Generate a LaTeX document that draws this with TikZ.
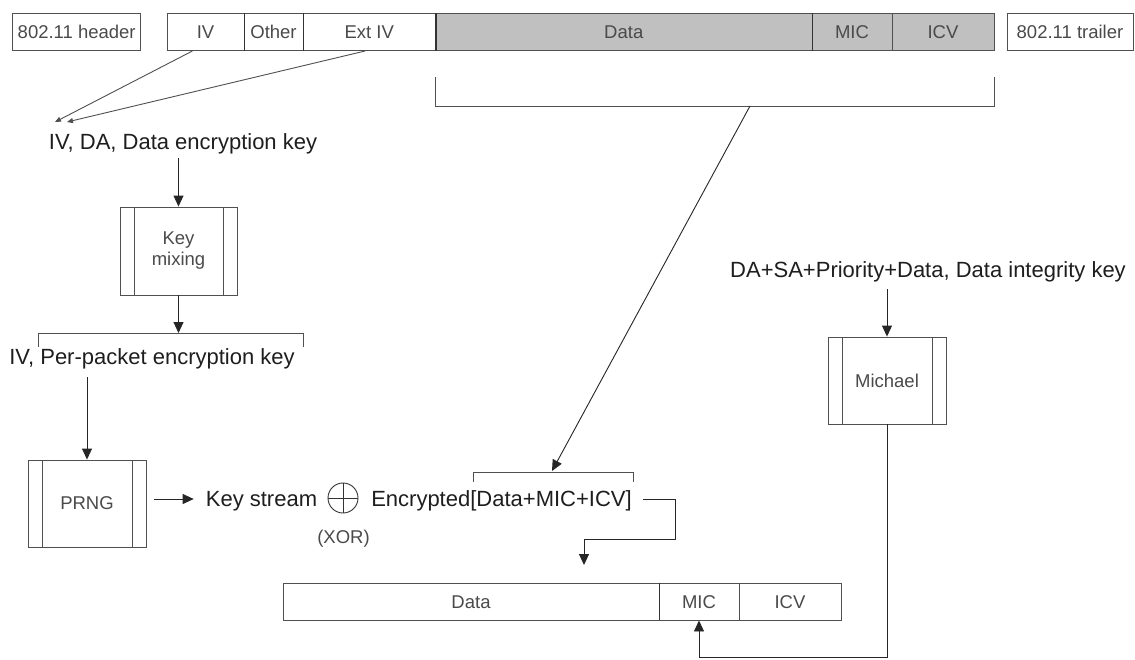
\documentclass[tikz,border=0pt]{standalone}
\usepackage{fontspec}
\setmainfont{Liberation Sans}
\usetikzlibrary{arrows.meta,calc}
\definecolor{ln}{HTML}{505050}
\definecolor{lbl}{HTML}{4A4A4A}
\definecolor{txt}{HTML}{1E1E1E}
\definecolor{gfill}{HTML}{C0C0C0}
\tikzset{
 cell/.style={draw=ln, line width=0.9pt, inner sep=0pt, minimum height=37pt, text height=13.3pt, text depth=0pt, font=\fontsize{18.5}{22}\selectfont, text=lbl},
 divider/.style={draw=black!80, line width=1.8pt},
 proc/.style={draw=ln, line width=0.9pt, minimum width=118pt, minimum height=87pt, inner sep=0pt, font=\fontsize{18.5}{21}\selectfont, text=lbl, align=center,
   path picture={\draw[ln,line width=0.9pt] ([xshift=14pt]path picture bounding box.north west) -- ([xshift=14pt]path picture bounding box.south west) ([xshift=-14pt]path picture bounding box.north east) -- ([xshift=-14pt]path picture bounding box.south east);}},
 lab/.style={inner sep=0pt, text height=15.8pt, text depth=0pt, font=\fontsize{22}{26}\selectfont, text=txt},
 small/.style={inner sep=0pt, text height=13.3pt, text depth=0pt, font=\fontsize{18.5}{22}\selectfont, text=lbl},
 arr/.style={draw=black!85, line width=0.9pt, -{Triangle[length=11pt,width=10pt]}},
 tinyarr/.style={draw=ln, line width=0.9pt, -{Triangle[length=6pt,width=5pt]}},
 conn/.style={draw=ln, line width=0.9pt},
}
\begin{document}
\begin{tikzpicture}[x=1pt,y=-1pt]
\useasboundingbox[fill=white] (0,0) rectangle (1135,659);
% top frame
\node[cell, minimum width=128pt] (hdr) at (76.7,32) {802.11 header};
\node[cell, minimum width=77pt] (iv) at (205.5,32) {IV};
\node[cell, minimum width=59pt] (oth) at (273.5,32) {Other};
\node[cell, minimum width=132.5pt] (ext) at (369.25,32) {Ext IV};
\node[cell, fill=gfill, minimum width=376.5pt] (data) at (623.75,32) {Data};
\node[cell, fill=gfill, minimum width=80pt] (mic) at (852,32) {MIC};
\node[cell, fill=gfill, minimum width=102pt] (icv) at (943,32) {ICV};
\node[cell, minimum width=126pt] (trl) at (1070,32) {802.11 trailer};
\draw[divider] (iv.north east) -- (iv.south east) (oth.north east) -- (oth.south east)
  (ext.north east) -- (ext.south east) (data.north east) -- (data.south east);
% bracket under data
\coordinate (bl) at (435.5,77);
\coordinate (br) at (994,77);
\draw[conn] (bl) -- ++(0,29) -| (br);
\coordinate (bmid) at (750,106);
% IV, DA
\node[lab] (ivda) at (183,141.5) {IV, DA, Data encryption key};
\coordinate (a1) at (55,122);
\coordinate (a2) at (67,122);
\draw[tinyarr] ([xshift=-13pt]iv.south) -- (a1);
\draw[tinyarr] ([xshift=-4pt]ext.south) -- (a2);
% key mixing
\node[proc, minimum width=117pt, minimum height=88pt] (km) at (178.5,251) {Key\\mixing};
\draw[arr] ($(km.north |- ivda.south)+(0,8.6)$) -- (km.north);
\coordinate (pl) at (38,347);
\coordinate (pr) at (303,347);
\draw[conn] (pl) -- ++(0,-14) -| (pr);
\coordinate (ppb) at (178.5,333);
\draw[arr] (km.south) -- (ppb);
\node[lab] (pp) at (152,357) {IV, Per-packet encryption key};
% PRNG row
\node[proc] (prng) at (87,503.5) {PRNG};
\draw[arr] ($(prng.north |- pp.south)+(0,12)$) -- (prng.north);
\node[lab] (ks) at (261.5,499) {Key stream};
\draw[arr] ($(prng.east |- ks.west)+(8,0)$) -- ($(ks.west)+(-12,0)$);
\node[draw=black!80, circle, minimum size=30pt, inner sep=0pt, line width=0.9pt] (xor) at (343,498) {};
\draw[black!80, line width=0.9pt] (xor.north) -- (xor.south) (xor.west) -- (xor.east);
\node[small] (xorl) at (343.5,537) {(XOR)};
\node[lab] (enc) at (501.5,499) {Encrypted[Data+MIC+ICV]};
\coordinate (el) at (473,482);
\coordinate (er) at (633,482);
\draw[conn] (el) -- ++(0,-10) -| (er);
\coordinate (et) at (552,471);
\draw[arr] (bmid) -- (et);
% bottom frame
\node[cell, minimum width=376pt] (bd) at (471,601.5) {Data};
\node[cell, minimum width=80pt] (bmic) at (699,601.5) {MIC};
\node[cell, minimum width=102pt] (bicv) at (790,601.5) {ICV};
\draw[divider] (bd.north east) -- (bd.south east);
\coordinate (t1) at (675,539);
\coordinate (t2) at (584,565);
\draw[arr] ($(enc.east)+(11,0)$) -| (t1) -| (t2);
% Michael
\node[lab] (intk) at (928,269.5) {DA+SA+Priority+Data, Data integrity key};
\node[proc] (mich) at (887,380.5) {Michael};
\draw[arr] ($(mich.north |- intk.south)+(0,11.6)$) -- (mich.north);
\coordinate (mb) at (700,657);
\draw[arr] (mich.south) |- (mb) -| (bmic.south);
\end{tikzpicture}
\end{document}
